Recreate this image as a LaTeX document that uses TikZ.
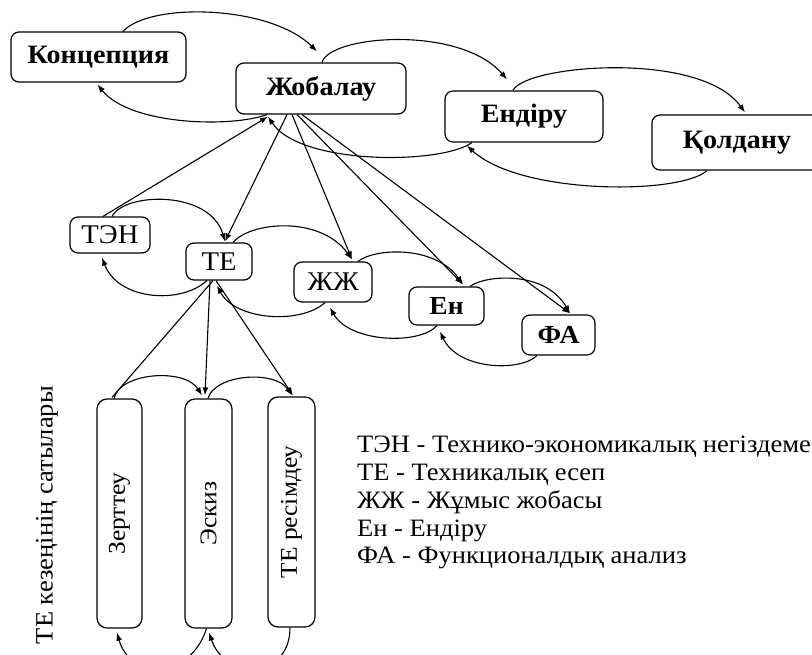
\documentclass[tikz,border=0pt]{standalone}
\usepackage{fontspec}
\newfontfamily\serifw[FakeStretch=1.06]{Liberation Serif}
\usetikzlibrary{arrows.meta}
\begin{document}
\begin{tikzpicture}[x=1pt,y=-1pt,
  box/.style={draw,rounded corners=8pt,line width=1.2pt,inner sep=0pt},
  topfont/.style={font=\serifw\fontsize{26.5}{30}\selectfont\bfseries},
  midfont/.style={font=\serifw\fontsize{27}{31}\selectfont},
  midbold/.style={font=\serifw\fontsize{26}{30}\selectfont\bfseries},
  vfont/.style={font=\serifw\fontsize{24}{28}\selectfont},
  legfont/.style={font=\serifw\fontsize{25}{29}\selectfont,inner sep=0pt},
  conn/.style={line width=1.1pt},
  arr/.style={conn,-{Latex[length=8pt,width=6pt]}}]
\useasboundingbox (0,0) rectangle (812,655);
\fill[white] (0,0) rectangle (812,655);
\clip (0,0) rectangle (812,655);

% top row
\node[box,topfont,minimum width=175,minimum height=50] (konc) at (98.5,57) {Концепция};
\node[box,topfont,minimum width=170,minimum height=51] (zhob) at (321,88.5) {Жобалау};
\node[box,topfont,minimum width=158,minimum height=51] (endir) at (524,116.5) {Ендіру};
\node[box,topfont,minimum width=170,minimum height=55] (qold) at (737,142.5) {Қолдану};

% second row
\node[box,midfont,minimum width=80,minimum height=36] (ten) at (110,235) {ТЭН};
\node[box,midfont,minimum width=66,minimum height=37] (te) at (219,261.5) {ТЕ};
\node[box,midfont,minimum width=78,minimum height=40] (zhzh) at (333,282) {ЖЖ};
\node[box,midbold,minimum width=75,minimum height=38] (en) at (446.5,306) {Ен};
\node[box,midbold,minimum width=73,minimum height=40] (fa) at (558.5,335) {ФА};

% stages
\node[box,vfont,rotate=90,rounded corners=10pt,minimum width=229,minimum height=45] (zert) at (119.5,513.5) {Зерттеу};
\node[box,vfont,rotate=90,rounded corners=10pt,minimum width=229,minimum height=47] (eskiz) at (208.5,513.5) {Эскиз};
\node[box,vfont,rotate=90,rounded corners=10pt,minimum width=230,minimum height=47] (teres) at (291.5,512) {ТЕ ресімдеу};

% side label and legend
\node[legfont,rotate=90] (side) at (47,515) {ТЕ кезеңінің сатылары};
\node[legfont,anchor=base west] (l1) at (357,452) {ТЭН - Технико-экономикалық негіздеме};
\node[legfont,anchor=base west] (l2) at (357,480) {ТЕ - Техникалық есеп};
\node[legfont,anchor=base west] (l3) at (357,508) {ЖЖ - Жұмыс жобасы};
\node[legfont,anchor=base west] (l4) at (357,536) {Ен - Ендіру};
\node[legfont,anchor=base west] (l5) at (357,563) {ФА - Функционалдық анализ};

% top forward arcs
\draw[arr] ([xshift=24.5pt]konc.north) .. controls (150,2) and (270,5) .. ([xshift=-4pt,yshift=11pt]zhob.north);
\draw[arr] ([xshift=1pt]zhob.north) .. controls (330,35) and (460,25) .. ([xshift=-17pt,yshift=11pt]endir.north);
\draw[arr] ([xshift=-11pt]endir.north) .. controls (525,65) and (700,50) .. ([xshift=8pt,yshift=2pt]qold.north);
% top back arcs
\draw[arr] ([xshift=-54pt]zhob.south) .. controls (230,128) and (130,125) .. ([xshift=-1pt,yshift=-2pt]konc.south);
\draw[arr] ([xshift=-52pt]endir.south) .. controls (440,165) and (300,165) .. ([xshift=-53pt,yshift=-2pt]zhob.south);
\draw[arr] ([xshift=-30pt]qold.south) .. controls (680,195) and (520,195) .. ([xshift=-57pt,yshift=-3pt]endir.south);

% fan from Zhobalau
\draw[arr] ([xshift=-7pt]ten.north) -- ([xshift=-53pt,yshift=-2pt]zhob.south);
\draw[arr] ([xshift=-34pt]zhob.south) -- ([xshift=6pt,yshift=1pt]te.north);
\draw[arr] ([xshift=-29pt]zhob.south) -- ([xshift=19pt,yshift=2pt]zhzh.north);
\draw[arr] ([xshift=-24pt]zhob.south) -- ([xshift=16.5pt,yshift=2pt]en.north);
\draw[arr] ([xshift=-19pt]zhob.south) -- ([xshift=11.5pt,yshift=1pt]fa.north);

% second row forward arcs
\draw[arr] ([xshift=2pt]ten.north) .. controls (125,192) and (210,190) .. ([xshift=6pt,yshift=1pt]te.north);
\draw[arr] ([xshift=14pt]te.north) .. controls (250,222) and (320,215) .. ([xshift=19pt,yshift=2pt]zhzh.north);
\draw[arr] ([xshift=25pt]zhzh.north) .. controls (375,248) and (435,245) .. ([xshift=16.5pt,yshift=2pt]en.north);
\draw[arr] ([xshift=23.5pt]en.north) .. controls (485,275) and (545,270) .. ([xshift=11.5pt,yshift=1pt]fa.north);
% second row back arcs
\draw[arr] ([xshift=-12pt]te.south) .. controls (180,305) and (118,300) .. ([xshift=-8pt,yshift=-4pt]ten.south);
\draw[arr] ([xshift=-8pt]zhzh.south) .. controls (300,325) and (235,320) .. ([xshift=-2pt,yshift=-5pt]te.south);
\draw[arr] ([xshift=-9.5pt]en.south) .. controls (420,345) and (350,343) .. ([xshift=-3pt,yshift=-5pt]zhzh.south);
\draw[arr] ([xshift=-21.5pt]fa.south) .. controls (520,372) and (458,370) .. ([xshift=-6.5pt,yshift=-6pt]en.south);

% TE to stages
\draw[conn] ([xshift=-6pt]te.south) -- ([xshift=-7.5pt,yshift=1pt]zert.east);
\draw[arr] ([xshift=-9pt]te.south) -- ([xshift=-3.5pt,yshift=3pt]eskiz.east);
\draw[arr] ([xshift=-3pt]te.south) -- ([xshift=1.5pt,yshift=1pt]teres.east);
\draw[arr] ([xshift=-5.5pt]zert.east) .. controls (120,372) and (185,368) .. ([xshift=-6.5pt,yshift=3pt]eskiz.east);
\draw[arr] ([xshift=-0.5pt]eskiz.east) .. controls (215,374) and (275,370) .. ([xshift=0.5pt,yshift=1pt]teres.east);
\draw[arr] ([xshift=-2pt]eskiz.west) .. controls (190,680) and (130,680) .. ([xshift=-2.5pt,yshift=-4pt]zert.west);
\draw[arr] ([xshift=-1.5pt]teres.west) .. controls (290,680) and (225,680) .. ([xshift=0.5pt,yshift=-4pt]eskiz.west);
\end{tikzpicture}
\end{document}
